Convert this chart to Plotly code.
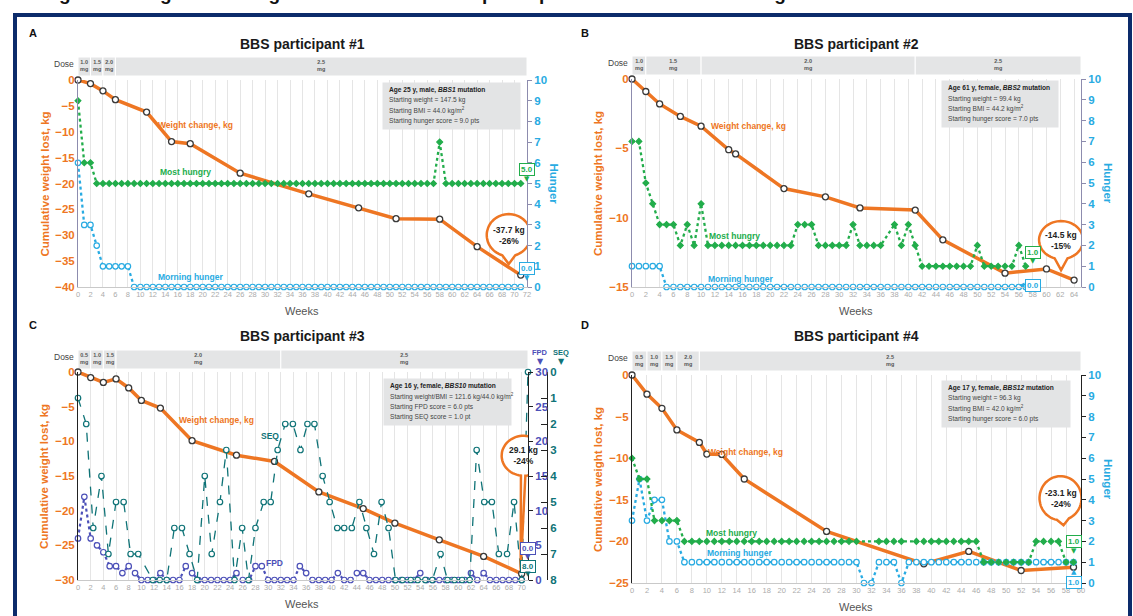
import math
import plotly.graph_objects as go

W, H = 1133, 616
FN = "Liberation Sans, Arial, sans-serif"
ORANGE = "#ee7623"
GREEN = "#22ad4b"
BLUE = "#29abe2"
FPDC = "#4c50b8"
SEQC = "#0f7377"
AXP = "#8d8cae"
DOSEBG = "#e4e5e6"
GRID = "#e5e5e5"


def fx(p):
    return p / W


def fy(p):
    return 1 - p / H


# ---------------- Panel A : BBS participant #1 ----------------
A_wt_weeks = [0, 2, 4, 6, 11, 15, 18, 26, 37, 45, 51, 58, 64, 71]
A_wt_kg = [0, -0.7, -2.1, -3.8, -6.2, -11.9, -12.3, -18.0, -22.0, -24.7, -26.8, -26.9, -32.2, -37.7]
A_most = [9, 6, 6, 5, 5, 5, 5, 5, 5, 5,
          5, 5, 5, 5, 5, 5, 5, 5, 5, 5,
          5, 5, 5, 5, 5, 5, 5, 5, 5, 5,
          5, 5, 5, 5, 5, 5, 5, 5, 5, 5,
          5, 5, 5, 5, 5, 5, 5, 5, 5, 5,
          5, 5, 5, 5, 5, 5, 5, 5, 7, 5,
          5, 5, 5, 5, 5, 5, 5, 5, 5, 5,
          5, 5]
A_morning = [6, 3, 3, 2, 1, 1, 1, 1, 1, 0,
             0, 0, 0, 0, 0, 0, 0, 0, 0, 0,
             0, 0, 0, 0, 0, 0, 0, 0, 0, 0,
             0, 0, 0, 0, 0, 0, 0, 0, 0, 0,
             0, 0, 0, 0, 0, 0, 0, 0, 0, 0,
             0, 0, 0, 0, 0, 0, 0, 0, 0, 0,
             0, 0, 0, 0, 0, 0, 0, 0, 0, 0,
             0, 0]
A_dose_edges = [0, 2, 4, 6, 72]
A_dose_labels = ["1.0", "1.5", "2.0", "2.5"]
A_info = ["Age 25 y, male, <i>BBS1</i> mutation", "Starting weight = 147.5 kg",
          "Starting BMI = 44.0 kg/m<sup>2</sup>", "Starting hunger score = 9.0 pts"]
A_final = ["-37.7 kg", "-26%"]

# ---------------- Panel B : BBS participant #2 ----------------
B_wt_weeks = [0, 2, 4, 7, 10, 14, 15, 22, 28, 33, 41, 45, 54, 60, 64]
B_wt_kg = [0, -0.9, -1.8, -2.7, -3.4, -5.1, -5.4, -7.9, -8.5, -9.3, -9.45, -11.6, -14.0, -13.7, -14.5]
B_most = [7, 7, 5, 4, 3, 3, 3, 2, 3, 2,
          4, 2, 2, 2, 2, 2, 2, 2, 2, 2,
          2, 2, 2, 2, 3, 3, 3, 2, 2, 2,
          2, 2, 3, 2, 2, 2, 2, None, 3, 2,
          3, 2, 1, 1, 1, 1, 1, 1, 1, 1,
          2, 1, 1, 1, 1, 1, 2, 1]
B_morning = [1, 1, 1, 1, 1, 0, 0, 0, 0, 0,
             0, 0, 0, 0, 0, 0, 0, 0, 0, 0,
             0, 0, 0, 0, 0, 0, 0, 0, 0, 0,
             0, 0, 0, 0, 0, 0, 0, 0, 0, 0,
             0, 0, 0, 0, 0, 0, 0, 0, 0, 0,
             0, 0, 0, 0, 0, 0, 0, 0]
B_dose_edges = [0, 2, 10, 41, 65]
B_dose_labels = ["1.0", "1.5", "2.0", "2.5"]
B_info = ["Age 61 y, female, <i>BBS2</i> mutation", "Starting weight = 99.4 kg",
          "Starting BMI = 44.2 kg/m<sup>2</sup>", "Starting hunger score = 7.0 pts"]
B_final = ["-14.5 kg", "-15%"]

# ---------------- Panel C : BBS participant #3 ----------------
C_wt_weeks = [0, 2, 4, 6, 8, 10, 13, 18, 25, 31, 38, 45, 50, 57, 64, 70]
C_wt_kg = [0, -0.8, -1.5, -1.0, -2.3, -4.1, -5.2, -9.9, -12.0, -12.9, -17.3, -19.7, -21.8, -24.2, -26.6, -29.1]
C_fpd = [6, 12, 6, 5, 4, 2, 2, 1, 2, 1,
         0, 0, 0, 1, 0, 0, 0, 2, 1, 0,
         0, 0, 0, 0, 0, 1, 0, 0, 2, 2,
         0, 0, 0, 0, 0, 2, 1, 0, 0, 0,
         0, 1, 0, 0, 1, 1, 0, 0, 0, 0,
         0, 0, 0, 0, 1, 0, 0, 0, 0, 0,
         0, 0, 1, 0, 1, 0, 0, 0, 0, 0,
         0]
C_seq_weeks = [0, 1.3, 2.4, 3.7, 4.8, 6.0, 7.2, 8.3, 9.5, 11.8, 12.9, 14.0, 15.2, 16.4, 17.6,
               18.8, 20.0, 21.1, 22.4, 23.4, 24.7, 25.9, 26.9, 28.0, 29.3, 30.4, 31.5, 32.7,
               33.9, 35.1, 36.2, 37.3, 38.6, 39.7, 40.9, 42.0, 43.2, 44.4, 45.5, 46.7, 47.9,
               49.0, 50.1, 51.2, 52.5, 53.6, 54.8, 55.9, 57.2, 58.3, 59.4, 60.6, 61.8, 62.9,
               64.1, 65.3, 66.4, 67.7, 68.8, 70.0, 71.0]
C_seq = [1, 2, 6, 4, 7, 5, 5, 7, 7, 8, 8, 8, 6, 6, 7,
         8, 4, 7, 5, 3, 8, 6, 8, 6, 5, 5, 3, 2,
         2, 3, 2, 2, 4, 5, 6, 6, 6, 5, 6, 7, 5,
         6, 8, 8, 8, 8, 8, 8, 7, 8, 8, 8, 8, 3,
         5, 5, 7, 7, 5, 8, 0]
C_dose_edges = [0, 2, 4, 6, 32, 71]
C_dose_labels = ["0.5", "1.0", "1.5", "2.0", "2.5"]
C_info = ["Age 16 y, female, <i>BBS10</i> mutation",
          "Starting weight/BMI = 121.6 kg/44.0 kg/m<sup>2</sup>",
          "Starting FPD score = 6.0 pts", "Starting SEQ score = 1.0 pt"]
C_final = ["29.1 kg", "-24%"]
C_fpd_final = 0.0
C_seq_final = 8.0

# ---------------- Panel D : BBS participant #4 ----------------
D_wt_weeks = [0, 2, 4, 6, 9, 10, 12, 15, 26, 39, 45, 52, 59]
D_wt_kg = [0, -2.3, -4.0, -6.6, -8.1, -9.5, -9.55, -12.5, -18.8, -22.7, -21.2, -23.5, -23.1]
D_most = [6, 5, 5, 3, 3, 3, 3, 2, 2, 2,
          2, 2, 2, 2, 2, 2, 2, 2, 2, 2,
          2, 2, 2, 2, 2, 2, 2, 2, 2, 2,
          2, None, None, 2, 2, 2, 2, None, 2, 2,
          2, 2, 2, 2, 2, 2, 2, 1, 1, 1,
          1, 1, 1, 1, 2, 2, 2, 2, 1, 1]
D_morning = [3, 5, 3, 4, 4, 2, 2, 1, 1, 1,
             1, 1, 1, 1, 1, 1, 1, 1, 1, 1,
             1, 1, 1, 1, 1, 1, 1, 1, 1, 1,
             1, 0, 0, 1, 1, 1, 0, 1, 1, 1,
             1, 1, 1, 1, 1, 1, 1, 1, 1, 1,
             1, 1, 1, 1, 1, 1, 1, 1, 1, 1]
D_dose_edges = [0, 2, 4, 6, 9, 60]
D_dose_labels = ["0.5", "1.0", "1.5", "2.0", "2.5"]
D_info = ["Age 17 y, female, <i>BBS12</i> mutation", "Starting weight = 96.3 kg",
          "Starting BMI = 42.0 kg/m<sup>2</sup>", "Starting hunger score = 6.0 pts"]
D_final = ["-23.1 kg", "-24%"]

TITLES = ["BBS participant #1", "BBS participant #2", "BBS participant #3", "BBS participant #4"]
CAPTION = "Figure 3. Weight and hunger scores over time in participants with substantial weight loss"

# ---------------- layout geometry (pixels) ----------------
P = {
    "A": dict(x="x", xl="xaxis", ykg="y", ykl="yaxis", yh="y2", yhl="yaxis2",
              xd=(78, 527), yd=(80, 287), xmax=72, xtick=72, kmin=-40, axc=AXP,
              dose=(57, 76), cx=302, letx=33, ty=44, lety=33),
    "B": dict(x="x2", xl="xaxis2", ykg="y3", ykl="yaxis3", yh="y4", yhl="yaxis4",
              xd=(632, 1081), yd=(79, 287), xmax=65, xtick=64, kmin=-15, axc=AXP,
              dose=(56, 75), cx=856, letx=585, ty=44, lety=33),
    "C": dict(x="x3", xl="xaxis3", ykg="y5", ykl="yaxis5", yh="y6", yhl="yaxis6",
              xd=(78, 528), yd=(372, 580), xmax=71, xtick=70, kmin=-30, axc="#222222",
              dose=(350, 369), cx=302, letx=33, ty=336, lety=325),
    "D": dict(x="x4", xl="xaxis4", ykg="y8", ykl="yaxis8", yh="y9", yhl="yaxis9",
              xd=(632, 1081), yd=(375, 583), xmax=60, xtick=60, kmin=-25, axc="#222222",
              dose=(351, 371), cx=856, letx=585, ty=336, lety=325),
}

layout = dict(width=W, height=H, margin=dict(l=0, r=0, t=0, b=0, pad=0, autoexpand=False),
              paper_bgcolor="white", plot_bgcolor="rgba(0,0,0,0)", showlegend=False,
              font=dict(family=FN))
shapes, anns = [], []


def ann(text, x, y, xref="paper", yref="paper", size=10, color="#222", family=FN, **kw):
    d = dict(xref=xref, yref=yref, x=x, y=y, text=text, showarrow=False,
             xanchor="center", yanchor="middle", font=dict(size=size, color=color, family=family))
    d.update(kw)
    anns.append(d)


for key, p in P.items():
    xd = [fx(p["xd"][0]), fx(p["xd"][1])]
    yd = [fy(p["yd"][1]), fy(p["yd"][0])]
    layout[p["xl"]] = dict(domain=xd, range=[0, p["xmax"]], anchor=p["ykg"],
                           tickvals=list(range(0, p["xtick"] + 1, 2)), showgrid=True,
                           gridcolor=GRID, gridwidth=1, showline=True, linecolor="#c9c9c9",
                           ticks="", tickfont=dict(size=7.5, color="#ababab", family=FN),
                           zeroline=False, fixedrange=True)
    layout[p["ykl"]] = dict(domain=yd, range=[p["kmin"], 0], anchor=p["x"],
                            tickvals=list(range(p["kmin"], 1, 5)), showgrid=False,
                            showline=True, linecolor=p["axc"], linewidth=1, ticks="",
                            tickfont=dict(size=11.5, color=ORANGE, family=FN, weight="bold"),
                            zeroline=False, fixedrange=True)
    if key != "C":
        layout[p["yhl"]] = dict(overlaying=p["ykg"], side="right", anchor=p["x"], range=[0, 10],
                                dtick=1, ticks="outside", ticklen=4, tickcolor=p["axc"],
                                showline=True, linecolor=p["axc"], showgrid=False, zeroline=False,
                                tickfont=dict(size=11.5, color=BLUE, family=FN, weight="bold"),
                                fixedrange=True)
    midy = (p["yd"][0] + p["yd"][1]) / 2
    ann("<b>%s</b>" % TITLES["ABCD".index(key)], fx(p["cx"]), fy(p["ty"]), size=14, color="#1a1a1a")
    ann("<b>%s</b>" % key, fx(p["letx"]), fy(p["lety"]), size=11, color="#111")
    ann("Weeks", fx(p["cx"]), fy(p["yd"][1] + 24), size=11, color="#555")
    ann("<b>Cumulative weight lost, kg</b>", fx(p["xd"][0] - 34), fy(midy), size=11.5, color=ORANGE,
        textangle=-90)
    if key != "C":
        ann("<b>Hunger</b>", fx(p["xd"][1] + 27), fy(midy), size=11.5, color=BLUE, textangle=90)
    ann("Dose", fx(p["xd"][0] - 2), fy(p["dose"][0] + 7), size=8.5, color="#444", xanchor="right")

# dose segments
for key, edges, labels in [("A", A_dose_edges, A_dose_labels), ("B", B_dose_edges, B_dose_labels),
                           ("C", C_dose_edges, C_dose_labels), ("D", D_dose_edges, D_dose_labels)]:
    p = P[key]
    for i, lab in enumerate(labels):
        shapes.append(dict(type="rect", xref=p["x"], yref="paper", x0=edges[i], x1=edges[i + 1],
                           y0=fy(p["dose"][1]), y1=fy(p["dose"][0]), fillcolor=DOSEBG,
                           line=dict(color="white", width=1), layer="below"))
        ann("<b>%s<br>mg</b>" % lab, (edges[i] + edges[i + 1]) / 2, fy(sum(p["dose"]) / 2 - 1),
            xref=p["x"], size=5.5, color="#555")

# C right axes: FPD and SEQ
layout["yaxis6"] = dict(overlaying="y5", side="right", anchor="x3", range=[0, 30], dtick=5,
                        ticks="outside", ticklen=4, tickcolor="#222", showline=True, linecolor="#222",
                        showgrid=False, zeroline=False,
                        tickfont=dict(size=11.5, color=FPDC, family=FN, weight="bold"), fixedrange=True)
layout["yaxis7"] = dict(overlaying="y5", side="right", anchor="free", position=fx(547), range=[8, 0],
                        dtick=1, ticks="inside", ticklen=6, tickcolor="#222", showline=True,
                        linecolor="#222", showgrid=False, zeroline=False,
                        tickfont=dict(size=11.5, color=SEQC, family=FN, weight="bold"), fixedrange=True)

fig = go.Figure()


def weight_trace(weeks, kg, xa, ya):
    return go.Scatter(x=weeks, y=kg, xaxis=xa, yaxis=ya, mode="lines+markers",
                      line=dict(color=ORANGE, width=3.5),
                      marker=dict(symbol="circle", size=6, color="white", line=dict(color="#3a3a3a", width=1.3)),
                      cliponaxis=False, hoverinfo="skip")


def series(weeks, vals, xa, ya, color, symbol, dash, width=2.3, open_=True, size=5.5):
    mk = dict(symbol=symbol, size=size, color="white" if open_ else color,
              line=dict(color=color, width=1.2))
    return go.Scatter(x=weeks, y=vals, xaxis=xa, yaxis=ya, mode="lines+markers", connectgaps=True,
                      line=dict(color=color, width=width, dash=dash), marker=mk,
                      cliponaxis=False, hoverinfo="skip")


for key, wk, wv in [("A", A_wt_weeks, A_wt_kg), ("B", B_wt_weeks, B_wt_kg),
                    ("C", C_wt_weeks, C_wt_kg), ("D", D_wt_weeks, D_wt_kg)]:
    p = P[key]
    fig.add_trace(weight_trace(wk, wv, p["x"], p["ykg"]))

for key, most, morn in [("A", A_most, A_morning), ("B", B_most, B_morning), ("D", D_most, D_morning)]:
    p = P[key]
    fig.add_trace(series(list(range(len(morn))), morn, p["x"], p["yh"], BLUE, "circle", "dot"))
    fig.add_trace(series(list(range(len(most))), most, p["x"], p["yh"], GREEN, "diamond", "dot",
                         open_=False, size=4.5))

fig.add_trace(series(list(range(len(C_fpd))), C_fpd, "x3", "y6", FPDC, "circle", "dot", width=2.2))
fig.add_trace(series(C_seq_weeks, C_seq, "x3", "y7", SEQC, "circle", "dash", width=1.3))

# series labels
LBL = [("A", "ykg", 18.8, -8.6, "Weight change, kg", ORANGE), ("A", "yh", 17.3, 5.55, "Most hungry", GREEN),
       ("A", "yh", 18.0, 0.5, "Morning hunger", BLUE),
       ("B", "ykg", 16.8, -3.4, "Weight change, kg", ORANGE), ("B", "yh", 14.8, 2.45, "Most hungry", GREEN),
       ("B", "yh", 15.7, 0.4, "Morning hunger", BLUE),
       ("C", "ykg", 21.8, -6.9, "Weight change, kg", ORANGE), ("C", "ykg", 30.3, -9.2, "SEQ", SEQC),
       ("C", "ykg", 31.0, -27.6, "FPD", FPDC),
       ("D", "ykg", 15.1, -9.2, "Weight change, kg", ORANGE), ("D", "yh", 13.3, 2.4, "Most hungry", GREEN),
       ("D", "yh", 14.3, 1.45, "Morning hunger", BLUE)]
for key, yk, x, y, t, c in LBL:
    p = P[key]
    ann("<b>%s</b>" % t, x, y, xref=p["x"], yref=p[yk], size=8.5, color=c)

# info boxes (box + one annotation per line)
INFO = [("A", A_info, 48.8, -0.4, 137), ("B", B_info, 44.8, -0.1, 116),
        ("C", C_info, 48.1, -0.9, 127), ("D", D_info, 41.3, -0.6, 128)]
for key, lines, x, y, w in INFO:
    p = P[key]
    ann(" ", x, y, xref=p["x"], yref=p["ykg"], size=6, xanchor="left", yanchor="top", width=w, height=46,
        bgcolor="#e3e4e5", borderpad=0)
    for i, l in enumerate(lines):
        ann(("<b>%s</b>" % l) if i == 0 else l, x, y, xref=p["x"], yref=p["ykg"], size=6.6,
            color="#222" if i == 0 else "#444", xanchor="left", xshift=5, yshift=-(8 + 10.3 * i))


# callout bubbles (pixel offsets relative to final point)
def bubble(cx, cy, rx, ry, tx, ty, gap=0.25, n=60):
    ang = math.atan2((ty - cy) / ry, (tx - cx) / rx)
    pts = []
    for i in range(n + 1):
        t = ang + gap + (2 * math.pi - 2 * gap) * i / n
        pts.append((cx + rx * math.cos(t), cy + ry * math.sin(t)))
    return "M%.1f,%.1f " % (tx, ty) + " ".join("L%.1f,%.1f" % q for q in pts) + " Z"


BUB = [("A", A_wt_weeks[-1], A_wt_kg[-1], A_final, (-12, 40, 22, 21, -12, 11, 0.3)),
       ("B", B_wt_weeks[-1], B_wt_kg[-1], B_final, (-13, 40, 22, 19, -13, 10, 0.3)),
       ("C", C_wt_weeks[-1], C_wt_kg[-1], C_final, (2, 118, 22, 20, -1, 4, 0.1)),
       ("D", D_wt_weeks[-1], D_wt_kg[-1], D_final, (-13, 69, 21, 22, -10, 42, 0.3))]
for key, xw, yk, txt, g in BUB:
    p = P[key]
    cx, cy, rx, ry, tx, ty, gap = g
    shapes.append(dict(type="path", xref=p["x"], yref=p["ykg"], xsizemode="pixel", ysizemode="pixel",
                       xanchor=xw, yanchor=yk, path=bubble(cx, cy, rx, ry, tx, ty, gap),
                       fillcolor="white", line=dict(color=ORANGE, width=2.5), layer="above"))
    ann("<b>%s<br>%s</b>" % (txt[0], txt[1]), xw, yk, xref=p["x"], yref=p["ykg"], size=8.5,
        color="#222", xshift=cx, yshift=cy)

# final value boxes
BOX = [("x", "y2", 72, A_most[-1], GREEN, 14, "▼", 5, 0),
       ("x", "y2", 72, A_morning[-1], BLUE, 19, "▼", 9, 0),
       ("x2", "y4", 58, B_most[-1], GREEN, 14, "▼", 5, 0),
       ("x2", "y4", 58, B_morning[-1], BLUE, 2, "◀", 2, -11),
       ("x3", "y6", 71, C_fpd_final, FPDC, 32, "▼", 23, 0),
       ("x3", "y7", 71, C_seq_final, SEQC, 14, "▼", 6, 0),
       ("x4", "y9", 59, D_most[-1], GREEN, 21, "▼", 11, 0),
       ("x4", "y9", 59, D_morning[-1], BLUE, -20, "▲", -10, 0)]
for xa, ya, x, v, c, dy, tri, tdy, tdx in BOX:
    ann("<b>%.1f</b>" % v, x, v, xref=xa, yref=ya, size=8, color=c, yshift=dy,
        bgcolor="white", bordercolor=c, borderwidth=1, borderpad=1)
    ann(tri, x, v, xref=xa, yref=ya, size=7, color=c, family="DejaVu Sans", yshift=tdy, xshift=tdx)

# FPD / SEQ headers
for x, t, c in [(540, "FPD", FPDC), (561, "SEQ", SEQC)]:
    ann("<b>%s</b>" % t, fx(x), fy(352), size=7.5, color=c)
    ann("▼", fx(x), fy(361), size=8, color=c, family="DejaVu Sans")

# frame + caption
shapes.append(dict(type="rect", xref="paper", yref="paper", x0=fx(15), x1=fx(1130), y0=fy(660), y1=fy(15),
                   line=dict(color="#0c2b6b", width=4), fillcolor="rgba(0,0,0,0)", layer="above"))
ann("<b>%s</b>" % CAPTION, fx(40), fy(6), size=19, color="#111", xanchor="left", yanchor="bottom")

layout["shapes"] = shapes
layout["annotations"] = anns
fig.update_layout(**layout)
fig.write_html("out.html", config={"displayModeBar": False},
               post_script="document.body.style.margin='0';document.body.style.padding='0';"
                           "document.body.style.overflow='hidden';")
